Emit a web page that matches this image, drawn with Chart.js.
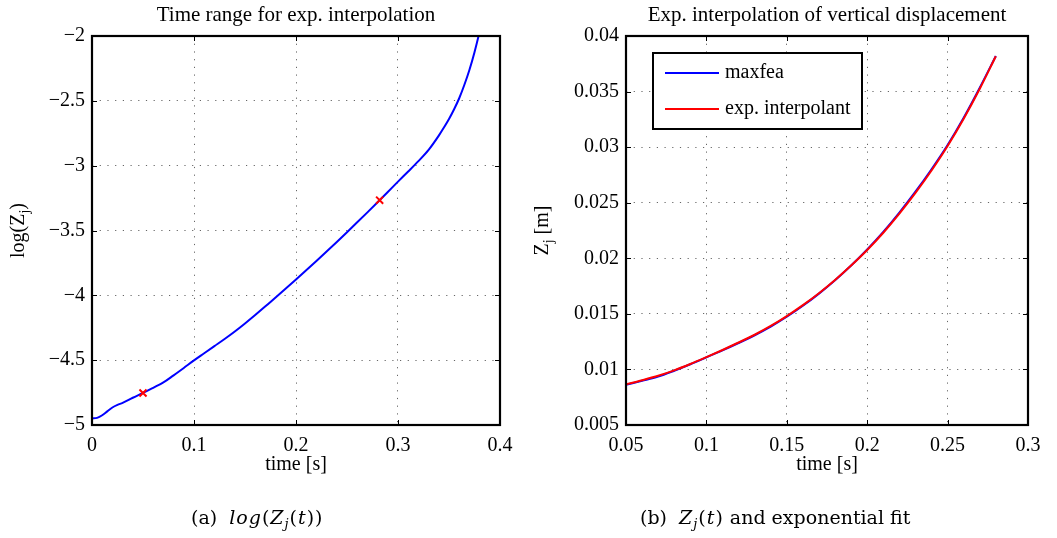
<!DOCTYPE html>
<html>
<head>
<meta charset="utf-8">
<title>Exponential interpolation</title>
<script src="https://cdn.jsdelivr.net/npm/chart.js@4.4.0/dist/chart.umd.min.js"></script>
<style>
html, body { margin: 0; padding: 0; background: #fff; }
body { width: 1057px; height: 538px; position: relative; overflow: hidden; font-family: "Liberation Serif", "Times New Roman", serif; color: #000; }
.panel { position: absolute; top: 0; }
#panelA { left: 0; }
#panelB { left: 530px; }
.caption { position: absolute; top: 505px; font-family: "DejaVu Serif", serif; font-size: 19px; line-height: 24px; white-space: nowrap; }
.caption .m { font-style: italic; letter-spacing: 1px; }
.caption .m .u { font-style: normal; }
.caption sub { font-size: 13px; vertical-align: -4px; line-height: 0; }
</style>
</head>
<body>
<div class="panel" id="panelA"><canvas id="chartA" width="530" height="538"></canvas></div>
<div class="panel" id="panelB"><canvas id="chartB" width="527" height="538"></canvas></div>
<div class="caption" style="left:191px">(a)&nbsp;&nbsp;<span class="m">log<span class="u">(</span>Z<sub>j</sub><span class="u">(</span>t<span class="u">))</span></span></div>
<div class="caption" style="left:640px">(b)&nbsp;&nbsp;<span class="m">Z<sub>j</sub><span class="u">(</span>t<span class="u">)</span></span> and exponential fit</div>
<script>
// log(Z_j) over the whole run
var timeLog = [0, 0.005, 0.01, 0.015, 0.02, 0.025, 0.03, 0.04, 0.05, 0.06, 0.07, 0.08, 0.09, 0.1,
    0.11, 0.12, 0.13, 0.14, 0.15, 0.16, 0.17, 0.18, 0.19, 0.2, 0.21, 0.22, 0.23, 0.24, 0.25,
    0.26, 0.27, 0.28, 0.29, 0.3, 0.31, 0.32, 0.33, 0.34, 0.345, 0.35, 0.355, 0.36, 0.365, 0.37, 0.375, 0.38, 0.385];
var logZ = [-4.95, -4.945, -4.925, -4.895, -4.865, -4.845, -4.83, -4.79, -4.753, -4.713, -4.672, -4.617, -4.56, -4.502,
    -4.447, -4.392, -4.337, -4.279, -4.217, -4.152, -4.085, -4.016, -3.947, -3.878, -3.807, -3.735, -3.662, -3.588, -3.513,
    -3.437, -3.36, -3.282, -3.203, -3.123, -3.045, -2.965, -2.878, -2.768, -2.706, -2.64, -2.565, -2.48, -2.378, -2.262,
    -2.125, -1.965, -1.78];

// ends of the interpolation window
var windowTime = [0.05, 0.282];
var windowLogZ = [-4.753, -3.266];

// Z_j inside the window: FE result and exponential interpolant
var timeFit = [0.05, 0.06, 0.07, 0.08, 0.09, 0.1, 0.11, 0.12, 0.13, 0.14, 0.15, 0.16,
    0.17, 0.18, 0.19, 0.2, 0.21, 0.22, 0.23, 0.24, 0.25, 0.26, 0.27, 0.28];
var zMaxfea = [0.008626, 0.008978, 0.009354, 0.009883, 0.010462, 0.011087, 0.011714, 0.012376, 0.013076, 0.013857,
    0.014743, 0.015732, 0.016823, 0.018025, 0.019352, 0.020796, 0.022371, 0.024113, 0.025991, 0.028016,
    0.030197, 0.03265, 0.03535, 0.038197];
var zInterp = [0.00866, 0.00903, 0.00943, 0.00992, 0.01049, 0.01111, 0.01175, 0.01242, 0.01312, 0.01391,
    0.0148, 0.01578, 0.01686, 0.01805, 0.01935, 0.02075, 0.0223, 0.02402, 0.02588, 0.0279,
    0.0301, 0.03255, 0.03525, 0.03818];

// axis ticks
var xTicksA = [0, 0.1, 0.2, 0.3, 0.4];
var yTicksA = [-5, -4.5, -4, -3.5, -3, -2.5, -2];
var xTicksB = [0.05, 0.1, 0.15, 0.2, 0.25, 0.3];
var yTicksB = [0.005, 0.01, 0.015, 0.02, 0.025, 0.03, 0.035, 0.04];

Chart.defaults.font.family = '"Liberation Serif", "Times New Roman", serif';
Chart.defaults.font.size = 20;
Chart.defaults.color = '#000';

function pts(xs, ys) {
    return xs.map(function (x, i) { return { x: x, y: ys[i] }; });
}

function fmt(v) {
    return String(Number(v.toFixed(4))).replace('-', '\u2212');
}

function axis(ticks, min, max, fitSize, horizontal, titleText) {
    var o = {
        type: 'linear',
        min: min,
        max: max,
        afterBuildTicks: function (s) { s.ticks = ticks.map(function (v) { return { value: v }; }); },
        afterFit: function (s) { if (horizontal) s.height = fitSize; else s.width = fitSize; },
        grid: { color: 'rgba(0,0,0,0.6)', lineWidth: 1, drawTicks: false },
        border: { display: false, dash: [1.2, 6.5] },
        ticks: { padding: horizontal ? 9 : 7, autoSkip: false, maxRotation: 0, callback: function (v) { return fmt(v); } }
    };
    if (titleText) o.title = { display: true, text: titleText, padding: { top: 0, bottom: 0 } };
    return o;
}

// MATLAB style frame: solid box plus inward tick marks on all four sides
var frame = {
    id: 'frame',
    afterDatasetsDraw: function (chart) {
        var ctx = chart.ctx, a = chart.chartArea, sx = chart.scales.x, sy = chart.scales.y, len = 5;
        ctx.save();
        ctx.strokeStyle = '#000';
        ctx.lineWidth = 1;
        ctx.beginPath();
        sx.ticks.forEach(function (t) {
            var p = Math.round(sx.getPixelForValue(t.value)) + 0.5;
            ctx.moveTo(p, a.top); ctx.lineTo(p, a.top + len);
            ctx.moveTo(p, a.bottom); ctx.lineTo(p, a.bottom - len);
        });
        sy.ticks.forEach(function (t) {
            var p = Math.round(sy.getPixelForValue(t.value)) + 0.5;
            ctx.moveTo(a.left, p); ctx.lineTo(a.left + len, p);
            ctx.moveTo(a.right, p); ctx.lineTo(a.right - len, p);
        });
        ctx.stroke();
        ctx.lineWidth = 2.2;
        ctx.strokeRect(a.left, a.top, a.right - a.left, a.bottom - a.top);
        ctx.restore();
    }
};

// title over the plot area and a rotated y label with a subscript
function labels(title, yMain, ySub, yRest, yBase) {
    return {
        id: 'labels',
        afterDraw: function (chart) {
            var ctx = chart.ctx, a = chart.chartArea;
            var big = '20px "Liberation Serif", serif', small = '14px "Liberation Serif", serif';
            ctx.save();
            ctx.fillStyle = '#000';
            ctx.font = '21px "Liberation Serif", serif';
            ctx.textAlign = 'center';
            ctx.textBaseline = 'alphabetic';
            ctx.fillText(title, (a.left + a.right) / 2, 21);

            ctx.textAlign = 'left';
            ctx.font = big;
            var w1 = ctx.measureText(yMain).width, w3 = ctx.measureText(yRest).width;
            ctx.font = small;
            var w2 = ctx.measureText(ySub).width;
            var x0 = -(w1 + w2 + w3) / 2;
            ctx.translate(yBase, (a.top + a.bottom) / 2);
            ctx.rotate(-Math.PI / 2);
            ctx.font = big;
            ctx.fillText(yMain, x0, 0);
            ctx.font = small;
            ctx.fillText(ySub, x0 + w1, 5);
            ctx.font = big;
            ctx.fillText(yRest, x0 + w1 + w2, 0);
            ctx.restore();
        }
    };
}

// boxed legend in the upper left of the plot area
var legendBox = {
    id: 'legendBox',
    afterDraw: function (chart) {
        var ctx = chart.ctx, bx = 123, by = 53, bw = 209, bh = 76;
        ctx.save();
        ctx.fillStyle = '#fff';
        ctx.fillRect(bx, by, bw, bh);
        ctx.lineWidth = 2;
        ctx.strokeStyle = '#000';
        ctx.strokeRect(bx, by, bw, bh);
        ctx.font = '20px "Liberation Serif", serif';
        ctx.textBaseline = 'middle';
        chart.data.datasets.forEach(function (ds, i) {
            var y = by + 20 + i * 36;
            ctx.strokeStyle = ds.borderColor;
            ctx.lineWidth = 2;
            ctx.beginPath();
            ctx.moveTo(bx + 12, y);
            ctx.lineTo(bx + 66, y);
            ctx.stroke();
            ctx.fillStyle = '#000';
            ctx.fillText(ds.label, bx + 72, y);
        });
        ctx.restore();
    }
};

new Chart(document.getElementById('chartA'), {
    type: 'line',
    data: {
        datasets: [
            { label: 'window', data: pts(windowTime, windowLogZ), showLine: false, borderColor: '#ff0000', backgroundColor: '#ff0000',
              pointStyle: 'crossRot', pointRadius: 5, pointBorderWidth: 2, order: 0 },
            { label: 'log(Z_j)', data: pts(timeLog, logZ), borderColor: '#0000ff', borderWidth: 2, pointRadius: 0, cubicInterpolationMode: 'monotone', order: 1 }
        ]
    },
    options: {
        responsive: false,
        animation: false,
        layout: { padding: { top: 36, right: 30, bottom: 61, left: 0 } },
        plugins: { legend: { display: false }, tooltip: { enabled: false } },
        scales: {
            x: axis(xTicksA, 0, 0.4, 52, true, 'time [s]'),
            y: axis(yTicksA, -5, -2, 92, false)
        }
    },
    plugins: [frame, labels('Time range for exp. interpolation', 'log(Z', 'j', ')', 24)]
});

// red interpolant is drawn over the blue FE curve (lower order = on top)
new Chart(document.getElementById('chartB'), {
    type: 'line',
    data: {
        datasets: [
            { label: 'maxfea', data: pts(timeFit, zMaxfea), borderColor: '#0000ff', borderWidth: 2, pointRadius: 0, cubicInterpolationMode: 'monotone', order: 1 },
            { label: 'exp. interpolant', data: pts(timeFit, zInterp), borderColor: '#ff0000', borderWidth: 2, pointRadius: 0, cubicInterpolationMode: 'monotone', order: 0 }
        ]
    },
    options: {
        responsive: false,
        animation: false,
        layout: { padding: { top: 36, right: 29, bottom: 61, left: 0 } },
        plugins: { legend: { display: false }, tooltip: { enabled: false } },
        scales: {
            x: axis(xTicksB, 0.05, 0.3, 52, true, 'time [s]'),
            y: axis(yTicksB, 0.005, 0.04, 96, false)
        }
    },
    plugins: [frame, labels('Exp. interpolation of vertical displacement', 'Z', 'j', ' [m]', 18), legendBox]
});
</script>
</body>
</html>
